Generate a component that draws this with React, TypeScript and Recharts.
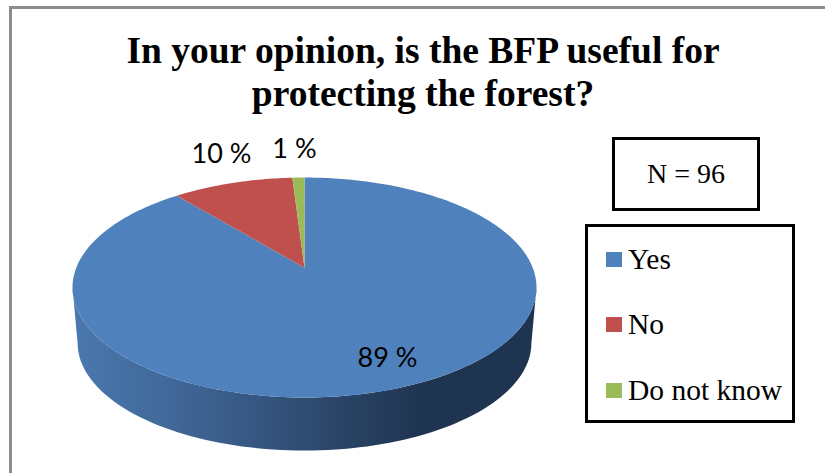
import React from "react";
import { PieChart, Pie, Cell, Legend } from "recharts";

const categories = ["Yes", "No", "Do not know"];
const shares = [89, 10, 1];
const sliceColors = ["#4f81bd", "#c0504d", "#9bbb59"];
const titleLines = ["In your opinion, is the BFP useful for", "protecting the forest?"];
const sampleNote = "N = 96";

const rows = categories.map((name, i) => ({ name, value: shares[i] }));

// Tilted-disc projection of the pie
const SQUASH = 0.474;
const APEX_SHIFT = 0.18;
const WALL_DROP = 55.5;
const WALL_TAPER = 0.978;
const RAD = Math.PI / 180;

function project(cx: number, cy: number, r: number, angle: number, fraction = 1) {
  const X = Math.cos(angle * RAD) * fraction;
  const Y = Math.sin(angle * RAD) * fraction;
  const den = 1 + APEX_SHIFT * Y;
  const u = (X * Math.sqrt(1 - APEX_SHIFT * APEX_SHIFT)) / den;
  const v = (Y + APEX_SHIFT) / den;
  return { x: cx + u * r, y: cy - v * r * SQUASH };
}

function sectorPath(cx: number, cy: number, r: number, start: number, end: number) {
  const apex = project(cx, cy, r, 0, 0);
  const steps = Math.max(4, Math.ceil(Math.abs(end - start)));
  let d = `M${apex.x},${apex.y}`;
  for (let i = 0; i <= steps; i++) {
    const p = project(cx, cy, r, start + ((end - start) * i) / steps);
    d += `L${p.x},${p.y}`;
  }
  return d + "Z";
}

function wallPath(cx: number, cy: number, r: number) {
  let d = "";
  for (let a = 0; a >= -180; a -= 2) {
    const x = cx + Math.cos(a * RAD) * r;
    const y = cy - Math.sin(a * RAD) * r * SQUASH;
    d += `${d ? "L" : "M"}${x},${y}`;
  }
  for (let a = -180; a <= 0; a += 2) {
    const x = cx + Math.cos(a * RAD) * r * WALL_TAPER;
    const y = cy + WALL_DROP - Math.sin(a * RAD) * r * WALL_TAPER * SQUASH;
    d += `L${x},${y}`;
  }
  return d + "Z";
}

function DiscSlice(props: any) {
  const { cx, cy, outerRadius, startAngle, endAngle, fill, index } = props;
  return (
    <g>
      {index === 0 && (
        <>
          <defs>
            <linearGradient id="wallShade" x1="0" x2="1" y1="0" y2="0">
              <stop offset="0" stopColor="#4a78ae" />
              <stop offset="0.25" stopColor="#3f6595" />
              <stop offset="0.5" stopColor="#2f4c72" />
              <stop offset="0.75" stopColor="#1f3450" />
              <stop offset="1" stopColor="#1f3450" />
            </linearGradient>
          </defs>
          <path d={wallPath(cx, cy, outerRadius)} fill="url(#wallShade)" />
        </>
      )}
      <path d={sectorPath(cx, cy, outerRadius, startAngle, endAngle)} fill={fill} />
    </g>
  );
}

const labelShift = [
  { dx: -10, dy: -32 },
  { dx: -11, dy: -30 },
  { dx: -4, dy: -30 },
];

function sliceLabel(props: any) {
  const { cx, cy, outerRadius, midAngle, value, index } = props;
  const p = project(cx, cy, outerRadius, midAngle);
  const s = labelShift[index];
  return (
    <text
      x={p.x + s.dx}
      y={p.y + s.dy}
      textAnchor="middle"
      dominantBaseline="central"
      fontFamily="Lato"
      fontSize={27}
      fill="#000"
    >
      {value} %
    </text>
  );
}

function KeyBox({ payload }: any) {
  return (
    <div
      style={{
        boxSizing: "border-box",
        width: 210,
        height: 199,
        border: "3px solid #000",
        background: "#fff",
        position: "relative",
      }}
    >
      {(payload || []).map((item: any, i: number) => (
        <div
          key={item.value}
          style={{
            position: "absolute",
            left: 18,
            top: 13 + i * 65.5,
            height: 38,
            display: "flex",
            alignItems: "center",
            fontFamily: "'Liberation Serif'",
            fontSize: 29.5,
            color: "#000",
            whiteSpace: "nowrap",
          }}
        >
          <span style={{ width: 16, height: 15, background: item.color, marginRight: 6 }} />
          {item.value}
        </div>
      ))}
    </div>
  );
}

export default function App() {
  return (
    <div style={{ position: "absolute", left: 0, top: 0, width: 825, height: 473, background: "#fff", overflow: "hidden" }}>
      <div style={{ position: "absolute", left: 9, top: 6, right: -10, bottom: -10, border: "3px solid #8c8c8c" }} />
      <PieChart width={825} height={473} margin={{ top: 0, right: 0, bottom: 0, left: 0 }} style={{ position: "absolute", left: 0, top: 0 }}>
        <text x={423} y={63} textAnchor="middle" fontFamily="'Liberation Serif'" fontWeight="bold" fontSize={37.5} fill="#000">
          {titleLines[0]}
        </text>
        <text x={423} y={106} textAnchor="middle" fontFamily="'Liberation Serif'" fontWeight="bold" fontSize={37.5} fill="#000">
          {titleLines[1]}
        </text>
        <Pie
          data={rows}
          dataKey="value"
          nameKey="name"
          cx={304.5}
          cy={287.5}
          outerRadius={232}
          startAngle={90}
          endAngle={-270}
          stroke="none"
          isAnimationActive={false}
          shape={DiscSlice}
          label={sliceLabel}
          labelLine={false}
        >
          {rows.map((row, i) => (
            <Cell key={row.name} fill={sliceColors[i]} />
          ))}
        </Pie>
        <Legend
          content={KeyBox}
          layout="vertical"
          itemSorter={null}
          wrapperStyle={{ position: "absolute", left: 585, top: 224, width: 210, height: 199 }}
        />
      </PieChart>
      <div
        style={{
          position: "absolute",
          left: 612,
          top: 137,
          boxSizing: "border-box",
          width: 148,
          height: 74,
          border: "3px solid #000",
          display: "flex",
          alignItems: "center",
          justifyContent: "center",
          fontFamily: "'Liberation Serif'",
          fontSize: 28,
          color: "#000",
        }}
      >
        {sampleNote}
      </div>
    </div>
  );
}
